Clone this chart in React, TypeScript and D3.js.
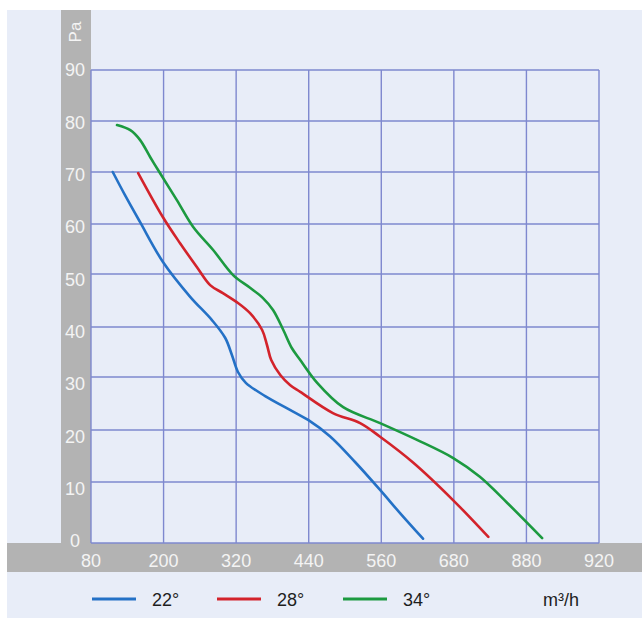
import React from "react";
import * as d3 from "d3";

// Airflow (m³/h) axis ticks and the labels printed under them
const flowTicks = [80, 200, 320, 440, 560, 680, 800, 920];
const flowTickLabels = ["80", "200", "320", "440", "560", "680", "880", "920"];

// Static pressure (Pa) axis ticks
const pressureTicks = [0, 10, 20, 30, 40, 50, 60, 70, 80, 90];

// Blade angle series
const seriesNames = ["22°", "28°", "34°"];
const seriesColors = ["#2471c6", "#d3232b", "#1c9a40"];

const flow22 = [116, 136, 161, 199, 244, 280, 302, 313, 323, 336, 368, 409, 439, 475, 517, 558, 591, 629];
const pressure22 = [70, 65.6, 60.4, 52.4, 45.7, 41.3, 37.8, 34.4, 31, 28.9, 26.4, 23.8, 21.9, 18.8, 13.8, 8.7, 4.9, 0.7];

const flow28 = [158, 199, 227, 255, 277, 298, 321, 343, 363, 371, 378, 393, 409, 426, 480, 525, 558, 613, 679, 737];
const pressure28 = [69.8, 61.3, 56.2, 51.4, 47.9, 46.4, 44.7, 42.6, 39.4, 36.4, 33.4, 30.4, 28.5, 27.2, 23.2, 21.3, 18.7, 13.7, 7, 1];

const flow34 = [123, 145, 161, 178, 194, 222, 249, 282, 315, 343, 364, 381, 398, 412, 426, 454, 497, 558, 619, 679, 723, 768, 826];
const pressure34 = [79.2, 78.2, 76.3, 72.9, 69.8, 64.6, 59.4, 54.8, 49.8, 47.4, 45.5, 43.2, 39.4, 35.8, 33.4, 28.9, 24.3, 21.3, 18.1, 14.6, 11, 6.6, 0.8];

const unitLabel = "m³/h";
const pressureUnit = "Pa";

const series = [
  { name: seriesNames[0], color: seriesColors[0], flow: flow22, pressure: pressure22 },
  { name: seriesNames[1], color: seriesColors[1], flow: flow28, pressure: pressure28 },
  { name: seriesNames[2], color: seriesColors[2], flow: flow34, pressure: pressure34 },
];

const W = 642;
const H = 618;
const FONT = "'Liberation Sans', Arial, Helvetica, sans-serif";

export default function App() {
  const x = d3.scaleLinear().domain([80, 920]).range([91, 599]);
  // the printed grid is slightly uneven, so the pressure scale is piecewise
  const y = d3
    .scaleLinear()
    .domain(pressureTicks)
    .range([543, 482, 430, 377, 327, 274, 224, 172, 121, 70]);
  // tick labels sit at an even pitch along the grey bar
  const yLabel = d3.scaleLinear().domain([0, 90]).range([541, 70]);

  const line = d3
    .line<[number, number]>()
    .x((d) => x(d[0]))
    .y((d) => y(d[1]))
    .curve(d3.curveCatmullRom.alpha(0.5));

  const gridColor = "#7e88cf";
  const bandColor = "#b3b3b3";
  const labelColor = "#f4f4f4";

  const legendX = [92, 217, 343];

  return (
    <svg
      width={W}
      height={H}
      style={{ position: "fixed", left: 0, top: 0, background: "#ffffff" }}
    >
      <rect x={7} y={10} width={W - 7} height={H - 10} fill="#e8edf8" />

      {/* grey axis bands */}
      <rect x={61} y={10} width={30} height={562} fill={bandColor} />
      <rect x={7} y={543} width={W - 7} height={29} fill={bandColor} />

      {/* grid */}
      <g stroke={gridColor} strokeWidth={1.4} fill="none">
        {pressureTicks.map((t) => (
          <line key={"h" + t} x1={x(80)} x2={x(920)} y1={y(t)} y2={y(t)} />
        ))}
        {flowTicks.map((t) => (
          <line key={"v" + t} x1={x(t)} x2={x(t)} y1={y(90)} y2={y(0)} />
        ))}
      </g>

      {/* pressure labels */}
      <g fontFamily={FONT} fontSize={18} fill={labelColor} textAnchor="middle">
        {pressureTicks.map((t) => (
          <text key={"yl" + t} x={75} y={yLabel(t)} dy="0.35em">
            {t}
          </text>
        ))}
        <text transform="translate(75,32) rotate(-90)" dy="0.35em" fontSize={17}>
          {pressureUnit}
        </text>
      </g>

      {/* flow labels */}
      <g fontFamily={FONT} fontSize={18} fill={labelColor} textAnchor="middle">
        {flowTicks.map((t, i) => (
          <text key={"xl" + t} x={x(t)} y={561} dy="0.35em">
            {flowTickLabels[i]}
          </text>
        ))}
      </g>

      {/* curves */}
      <g fill="none" strokeWidth={2.6} strokeLinecap="round" strokeLinejoin="round">
        {series.map((s) => (
          <path
            key={s.name}
            d={line(s.flow.map((f, i) => [f, s.pressure[i]] as [number, number])) || ""}
            stroke={s.color}
          />
        ))}
      </g>

      {/* legend */}
      <g fontFamily={FONT} fontSize={18} fill="#1e1e1e">
        {series.map((s, i) => (
          <g key={"lg" + s.name}>
            <line
              x1={legendX[i]}
              x2={legendX[i] + 44}
              y1={599}
              y2={599}
              stroke={s.color}
              strokeWidth={2.8}
            />
            <text x={legendX[i] + 60} y={600} dy="0.35em">
              {s.name}
            </text>
          </g>
        ))}
        <text x={543} y={600} dy="0.35em">
          {unitLabel}
        </text>
      </g>
    </svg>
  );
}
